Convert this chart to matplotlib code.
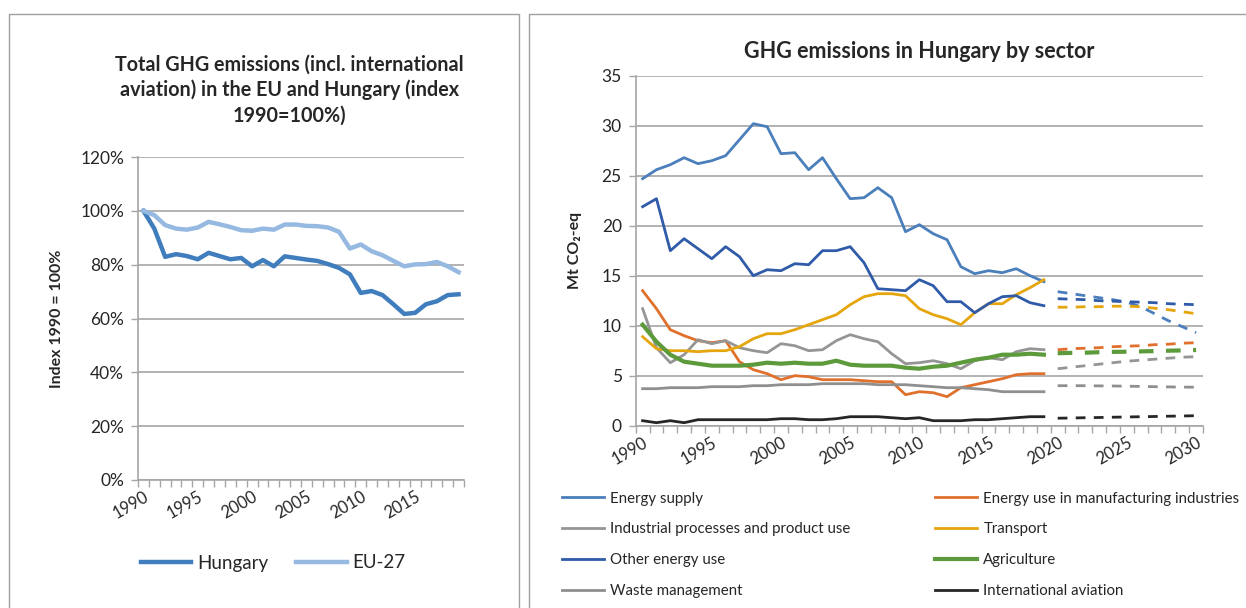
import matplotlib
matplotlib.use("Agg")
import matplotlib.pyplot as plt
from matplotlib.patches import Rectangle
from matplotlib.ticker import FixedLocator, NullFormatter
import numpy as np

plt.rcParams['font.family'] = ['Lato', 'DejaVu Sans']

# --- left chart: index 1990 = 100 ---
years_hist = list(range(1990, 2020))
hungary = [100, 93.4, 82.9, 83.9, 83.2, 82.0, 84.4, 83.2, 82.0, 82.5,
           79.4, 81.7, 79.4, 83.1, 82.5, 81.9, 81.4, 80.2, 78.8, 76.4,
           69.5, 70.2, 68.7, 65.3, 61.7, 62.1, 65.3, 66.4, 68.7, 69.0]
eu27 = [100, 98.4, 94.7, 93.4, 93.0, 93.8, 95.9, 95.0, 94.0, 92.8,
        92.6, 93.4, 93.0, 94.9, 94.9, 94.4, 94.3, 93.8, 92.2, 86.0,
        87.5, 85.0, 83.5, 81.4, 79.4, 80.1, 80.2, 81.0, 79.4, 77.2]

# --- right chart: Mt CO2-eq by sector ---
years_proj = list(range(2020, 2031))
sectors = ["Energy supply", "Energy use in manufacturing industries",
           "Industrial processes and product use", "Transport",
           "Other energy use", "Agriculture",
           "Waste management", "International aviation"]
energy_supply = [24.7, 25.6, 26.1, 26.8, 26.2, 26.5, 27.0, 28.6, 30.2, 29.9,
                 27.2, 27.3, 25.6, 26.8, 24.7, 22.7, 22.8, 23.8, 22.8, 19.4,
                 20.1, 19.2, 18.6, 15.9, 15.2, 15.5, 15.3, 15.7, 15.0, 14.4]
manufacturing = [13.5, 11.7, 9.6, 9.0, 8.5, 8.3, 8.5, 6.4, 5.6, 5.2,
                 4.6, 5.0, 4.9, 4.6, 4.6, 4.6, 4.5, 4.4, 4.4, 3.1,
                 3.4, 3.3, 2.9, 3.8, 4.1, 4.4, 4.7, 5.1, 5.2, 5.2]
industrial = [11.7, 7.8, 6.3, 7.1, 8.6, 8.2, 8.5, 7.8, 7.5, 7.3,
              8.2, 8.0, 7.5, 7.6, 8.5, 9.1, 8.7, 8.4, 7.2, 6.2,
              6.3, 6.5, 6.2, 5.7, 6.5, 6.8, 6.6, 7.4, 7.7, 7.6]
transport = [8.9, 7.7, 7.5, 7.5, 7.4, 7.5, 7.5, 7.9, 8.7, 9.2,
             9.2, 9.6, 10.1, 10.6, 11.1, 12.1, 12.9, 13.2, 13.2, 13.0,
             11.7, 11.1, 10.7, 10.1, 11.3, 12.2, 12.2, 13.1, 13.8, 14.6]
other_energy = [21.9, 22.7, 17.5, 18.7, 17.7, 16.7, 17.9, 16.9, 15.0, 15.6,
                15.5, 16.2, 16.1, 17.5, 17.5, 17.9, 16.3, 13.7, 13.6, 13.5,
                14.6, 14.0, 12.4, 12.4, 11.3, 12.2, 12.9, 13.0, 12.3, 12.0]
agriculture = [10.1, 8.4, 7.1, 6.4, 6.2, 6.0, 6.0, 6.0, 6.1, 6.3,
               6.2, 6.3, 6.2, 6.2, 6.5, 6.1, 6.0, 6.0, 6.0, 5.8,
               5.7, 5.9, 6.0, 6.3, 6.6, 6.8, 7.1, 7.1, 7.2, 7.1]
waste = [3.7, 3.7, 3.8, 3.8, 3.8, 3.9, 3.9, 3.9, 4.0, 4.0,
         4.1, 4.1, 4.1, 4.2, 4.2, 4.2, 4.2, 4.1, 4.1, 4.1,
         4.0, 3.9, 3.8, 3.8, 3.7, 3.6, 3.4, 3.4, 3.4, 3.4]
aviation = [0.5, 0.3, 0.5, 0.3, 0.6, 0.6, 0.6, 0.6, 0.6, 0.6,
            0.7, 0.7, 0.6, 0.6, 0.7, 0.9, 0.9, 0.9, 0.8, 0.7,
            0.8, 0.5, 0.5, 0.5, 0.6, 0.6, 0.7, 0.8, 0.9, 0.9]

energy_supply_proj = [13.4, 13.2, 13.0, 12.8, 12.6, 12.35, 11.9, 11.2, 10.5, 9.9, 9.3]
manufacturing_proj = [7.6, 7.7, 7.75, 7.8, 7.9, 7.95, 8.0, 8.1, 8.15, 8.25, 8.3]
industrial_proj = [5.7, 5.85, 6.0, 6.15, 6.3, 6.45, 6.55, 6.65, 6.75, 6.85, 6.9]
transport_proj = [11.85, 11.85, 11.9, 11.9, 11.95, 11.95, 11.9, 11.75, 11.6, 11.4, 11.2]
other_energy_proj = [12.7, 12.65, 12.6, 12.5, 12.45, 12.4, 12.35, 12.3, 12.2, 12.15, 12.1]
agriculture_proj = [7.25, 7.28, 7.3, 7.35, 7.38, 7.4, 7.43, 7.46, 7.5, 7.53, 7.57]
waste_proj = [4.0, 4.0, 4.0, 3.98, 3.97, 3.95, 3.93, 3.9, 3.88, 3.86, 3.85]
aviation_proj = [0.75, 0.77, 0.8, 0.82, 0.85, 0.87, 0.9, 0.92, 0.95, 0.97, 1.0]

colors = ["#4a7fbb", "#e0702c", "#959595", "#e5a50d",
          "#2f5ba8", "#5d9a3b", "#8f8f8f", "#262626"]
widths = [2.0, 2.0, 2.0, 2.0, 2.0, 3.0, 2.0, 2.0]
hist = [energy_supply, manufacturing, industrial, transport,
        other_energy, agriculture, waste, aviation]
proj = [energy_supply_proj, manufacturing_proj, industrial_proj, transport_proj,
        other_energy_proj, agriculture_proj, waste_proj, aviation_proj]

grid_c = "#a6a6a6"
txt_c = "#262626"

fig = plt.figure(figsize=(12.46, 6.08), dpi=100)

# panel frames
fig.patches.append(Rectangle((9 / 1246, -0.01), 510 / 1246, 1 - 14 / 608 + 0.01,
                             transform=fig.transFigure, fill=False,
                             edgecolor="#a0a0a0", lw=1))
fig.patches.append(Rectangle((529 / 1246, -0.01), 720 / 1246, 1 - 14 / 608 + 0.01,
                             transform=fig.transFigure, fill=False,
                             edgecolor="#a0a0a0", lw=1))


def style_axes(ax, first, last):
    ax.set_xlim(first - 0.5, last + 0.5)
    for s in ["top", "right"]:
        ax.spines[s].set_visible(False)
    for s in ["left", "bottom"]:
        ax.spines[s].set_color(grid_c)
        ax.spines[s].set_linewidth(1.2)
    ax.grid(axis="y", color=grid_c, lw=1.2)
    ax.set_axisbelow(True)
    ax.xaxis.set_minor_locator(FixedLocator(np.arange(first - 0.5, last + 1.0, 1)))
    ax.xaxis.set_minor_formatter(NullFormatter())
    ax.set_xticks(list(range(first, last + 1, 5)))
    ax.tick_params(axis="x", which="major", length=0, pad=6, labelsize=12,
                   labelcolor=txt_c)
    ax.tick_params(axis="x", which="minor", length=5, color=grid_c, width=1)
    ax.tick_params(axis="y", length=5, color=grid_c, width=1, labelsize=12.5,
                   labelcolor=txt_c, pad=5)
    for lab in ax.get_xticklabels():
        lab.set_rotation(30)
        lab.set_ha("right")
        lab.set_rotation_mode("anchor")


# left chart
axl = fig.add_axes([138 / 1246, 128 / 608, 326 / 1246, 323 / 608])
axl.plot(years_hist, hungary, color="#3f7dbd", lw=3.2, label="Hungary")
axl.plot(years_hist, eu27, color="#95b9e1", lw=3.2, label="EU-27")
axl.set_ylim(0, 120)
axl.set_yticks(range(0, 121, 20))
axl.set_yticklabels([f"{v}%" for v in range(0, 121, 20)])
style_axes(axl, 1990, 2019)
axl.set_ylabel("Index 1990 = 100%", fontsize=11.5, fontweight="bold",
               color=txt_c, labelpad=12)
fig.text(289 / 1246, 1 - 90 / 608,
         "Total GHG emissions (incl. international\naviation) in the EU and Hungary (index\n1990=100%)",
         ha="center", va="center", fontsize=14.2, fontweight="bold", color=txt_c,
         linespacing=1.33)
axl.legend(loc="center", bbox_to_anchor=(273 / 1246, 1 - 563 / 608),
           bbox_transform=fig.transFigure, ncol=2, frameon=False,
           fontsize=13.5, handlelength=2.7, handletextpad=0.3, columnspacing=1.5,
           labelcolor=txt_c)

# right chart
axr = fig.add_axes([635.7 / 1246, 182.3 / 608, 567.3 / 1246, 350 / 608])
handles = []
for name, h, p, c, w in zip(sectors, hist, proj, colors, widths):
    ln, = axr.plot(years_hist, h, color=c, lw=w, label=name)
    axr.plot(years_proj, p, color=c, lw=w, ls=(0, (3.5, 3)))
    handles.append(ln)
axr.set_ylim(0, 35)
axr.set_yticks(range(0, 36, 5))
style_axes(axr, 1990, 2030)
axr.set_ylabel("Mt CO₂-eq", fontsize=11.5, fontweight="bold", color=txt_c,
               labelpad=14)
axr.set_title("GHG emissions in Hungary by sector", fontsize=15.5,
              fontweight="bold", color=txt_c, pad=13)

order = [0, 2, 4, 6, 1, 3, 5, 7]
axr.legend([handles[i] for i in order], [sectors[i] for i in order],
           loc="upper left", bbox_to_anchor=(548 / 1246, 1 - 478 / 608),
           bbox_transform=fig.transFigure, ncol=2, frameon=False,
           fontsize=10.8, handlelength=2.8, handletextpad=0.45,
           columnspacing=5.6, labelspacing=1.13, labelcolor=txt_c)

fig.savefig("out.png", dpi=100)
